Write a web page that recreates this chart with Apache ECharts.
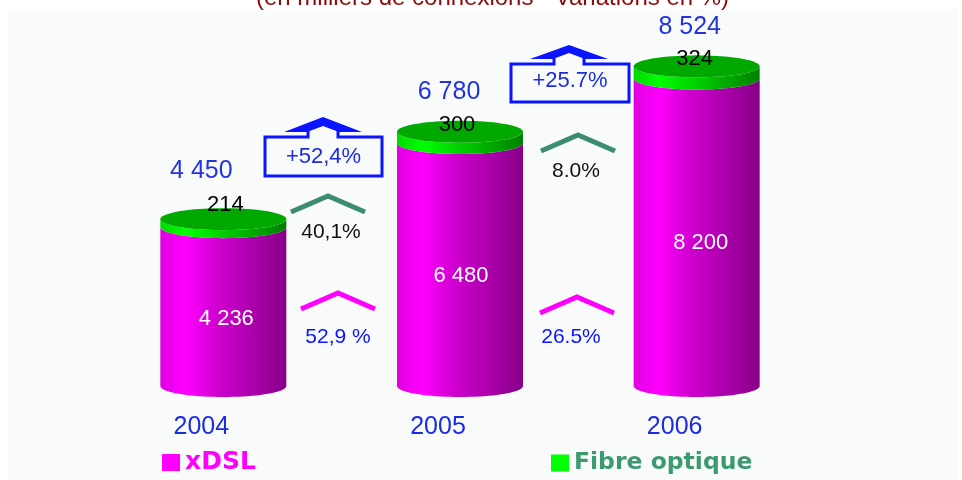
<!DOCTYPE html>
<html><head><meta charset="utf-8">
<style>html,body{margin:0;padding:0;background:#fff}#c{width:962px;height:480px}</style>
<script src="https://cdn.jsdelivr.net/npm/echarts@6/dist/echarts.min.js"></script>
</head><body><div id="c"></div>
<script>
// ---- data ----
const categories = ['2004', '2005', '2006'];
const xdsl = [4236, 6480, 8200];
const fibre = [214, 300, 324];
const totals = [4450, 6780, 8524];
const growthTotal = ['+52,4%', '+25.7%'];
const growthFibre = ['40,1%', '8.0%'];
const growthXdsl = ['52,9 %', '26.5%'];
const titleText = '(en milliers de connexions - Variations en %)';

// ---- layout (label nudges, annotation placement) ----
const totalDx = [-22, -11, -7], totalDy = [-48, -40, -39];
const fibreDx = [2, -3, -2], fibreDy = [-14, -7, -7];
const xdslDx = [3, 1, 4], xdslDy = [12, 11, 11];
const boxes = [{x: 265, y: 137, w: 117, h: 39, ax: 323, ay: 117}, {x: 511, y: 64, w: 118, h: 38, ax: 569, ay: 45}];
const greenChev = [{x: 328, y: 196}, {x: 578, y: 135}];
const pinkChev = [{x: 338, y: 293}, {x: 577, y: 297}];

const fmt = v => String(v).replace(/\B(?=(\d{3})+$)/g, ' ');
const FONT = '"Liberation Sans", Arial, sans-serif';
const RX = 63, RY = 11;
const PANEL = '#f9fbfb';

function grad(stops) {
  return new echarts.graphic.LinearGradient(0, 0, 1, 0, stops.map(c => ({offset: c[0], color: c[1]})));
}
const magentaFill = grad([[0, '#e000e0'], [0.2, '#ff00ff'], [0.45, '#d000d0'], [1, '#880088']]);
const greenFill = grad([[0, '#00d800'], [0.2, '#00ff00'], [0.5, '#00d000'], [1, '#008000']]);

function sidePoints(cx, yTop, yBot) {
  const pts = [];
  for (let i = 0; i <= 40; i++) {
    const a = Math.PI * i / 40;
    pts.push([cx - RX * Math.cos(a), yBot + RY * Math.sin(a)]);
  }
  for (let i = 40; i >= 0; i--) {
    const a = Math.PI * i / 40;
    pts.push([cx - RX * Math.cos(a), yTop + RY * Math.sin(a)]);
  }
  return pts;
}
function txt(x, y, text, size, fill) {
  return {type: 'text', z2: 10, style: {x, y, text, fill, font: size + 'px ' + FONT, align: 'center', verticalAlign: 'middle'}};
}

const xdslData = categories.map((c, i) => [i, 0, xdsl[i]]);
const fibreData = categories.map((c, i) => [i, xdsl[i], xdsl[i] + fibre[i]]);

function renderXdsl(params, api) {
  const i = api.value(0);
  const b = api.coord([i, api.value(1)]), t = api.coord([i, api.value(2)]);
  return {type: 'group', children: [
    {type: 'polygon', shape: {points: sidePoints(b[0], t[1], b[1])}, style: {fill: magentaFill}},
    txt(b[0] + xdslDx[i], (t[1] + b[1]) / 2 + xdslDy[i], fmt(xdsl[i]), 22, '#ffffff')
  ]};
}
function renderFibre(params, api) {
  const i = api.value(0);
  const b = api.coord([i, api.value(1)]), t = api.coord([i, api.value(2)]);
  const top = [];
  for (let k = 0; k < 80; k++) {
    const a = 2 * Math.PI * k / 80;
    top.push([b[0] + RX * Math.cos(a), t[1] + RY * Math.sin(a)]);
  }
  return {type: 'group', children: [
    {type: 'polygon', shape: {points: sidePoints(b[0], t[1], b[1])}, style: {fill: greenFill}},
    {type: 'polygon', shape: {points: top}, style: {fill: '#00a800'}},
    txt(b[0] + fibreDx[i], t[1] + fibreDy[i], String(fibre[i]), 22, '#000000'),
    txt(b[0] + totalDx[i], t[1] + totalDy[i], fmt(totals[i]), 25, '#2233dd')
  ]};
}

function chevron(c, color, w) {
  return {type: 'polyline', shape: {points: [[c.x - 37, c.y + 16], [c.x, c.y], [c.x + 37, c.y + 16]]},
    style: {stroke: color, lineWidth: w, fill: null}};
}
function gtext(x, y, text, size, fill) {
  return {type: 'text', x, y, style: {text, fill, font: size + 'px ' + FONT, align: 'center', verticalAlign: 'middle'}};
}
const graphics = [{type: 'rect', z: -10, shape: {x: 8, y: 9, width: 950, height: 471}, style: {fill: PANEL}}];
boxes.forEach((b, i) => {
  const wingY = b.y - 6, wing = 39, stem = 15, blue = '#0a14ff';
  graphics.push({type: 'polyline', shape: {points: [
    [b.ax - stem, wingY], [b.ax - stem, b.y], [b.x, b.y], [b.x, b.y + b.h], [b.x + b.w, b.y + b.h], [b.x + b.w, b.y],
    [b.ax + stem, b.y], [b.ax + stem, wingY]]},
    style: {fill: null, stroke: blue, lineWidth: 3, lineJoin: 'miter'}});
  graphics.push({type: 'polygon', shape: {points: [
    [b.ax - wing, wingY + 1], [b.ax, b.ay], [b.ax + wing, wingY + 1], [b.ax + stem + 1, wingY + 1], [b.ax, wingY - 5], [b.ax - stem - 1, wingY + 1]]},
    style: {fill: blue}});
  graphics.push(gtext(b.x + b.w / 2, b.y + b.h / 2 + [0, -2][i], growthTotal[i], 22, '#1a2be0'));
});
greenChev.forEach((c, i) => {
  graphics.push(chevron(c, '#3c8c6e', 5));
  graphics.push(gtext(c.x + [3, -2][i], c.y + 36, growthFibre[i], 21, '#111111'));
});
pinkChev.forEach((c, i) => {
  graphics.push(chevron(c, '#ff00ff', 5));
  graphics.push(gtext(c.x + [0, -6][i], c.y + [44, 40][i], growthXdsl[i], 21, '#0a14ff'));
});

const legendBase = {orient: 'horizontal', icon: 'rect', itemWidth: 18, itemHeight: 17, itemGap: 6, padding: 0, selectedMode: false};
const chart = echarts.init(document.getElementById('c'), null, {renderer: 'canvas'});
chart.setOption({
  animation: false,
  backgroundColor: '#ffffff',
  title: {text: titleText, left: 256, top: -14, padding: 0,
    textStyle: {fontFamily: FONT, fontSize: 24, fontWeight: 'normal', color: '#8b0a0a'}},
  legend: [
    Object.assign({}, legendBase, {left: 162, top: 450, data: ['xDSL'], textStyle: {fontFamily: '"DejaVu Sans", sans-serif', fontWeight: 'bold', fontSize: 25, color: '#ff00ff'}}),
    Object.assign({}, legendBase, {left: 551, top: 451, data: ['Fibre optique'], textStyle: {fontFamily: '"DejaVu Sans", sans-serif', fontWeight: 'bold', fontSize: 23.5, color: '#3c9a70'}})
  ],
  grid: {left: 105, right: 147, top: 11, bottom: 94, containLabel: false},
  xAxis: {type: 'category', data: categories, axisLine: {show: false}, axisTick: {show: false},
    axisLabel: {margin: 29, fontFamily: FONT, fontSize: 25, color: '#1a2be0', padding: [0, 44, 0, 0], verticalAlign: 'top'}},
  yAxis: {type: 'value', min: 0, max: 10000, show: false, splitLine: {show: false}},
  series: [
    {name: 'xDSL', type: 'custom', renderItem: renderXdsl, data: xdslData, encode: {x: 0, y: 2}, itemStyle: {color: '#ff00ff'}, z: 2},
    {name: 'Fibre optique', type: 'custom', renderItem: renderFibre, data: fibreData, encode: {x: 0, y: 2}, itemStyle: {color: '#00ff00'}, z: 3}
  ],
  graphic: graphics
});
</script></body></html>
